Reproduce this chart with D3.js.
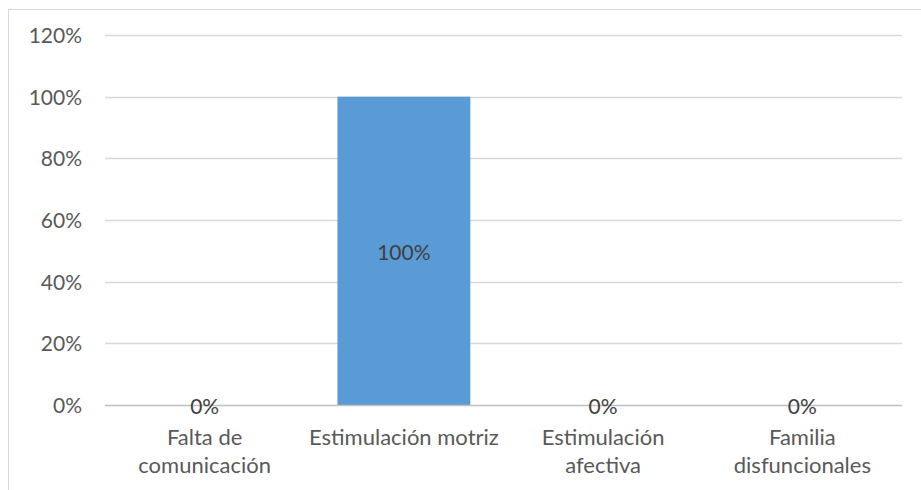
<!DOCTYPE html>
<html><head><meta charset="utf-8">
<script src="https://cdn.jsdelivr.net/npm/d3@7"></script>
<style>body{margin:0;background:#fff;}svg{display:block;}</style>
</head><body>
<svg id="c" width="921" height="490"></svg>
<script>
const categories = [["Falta de","comunicación"],["Estimulación motriz"],["Estimulación","afectiva"],["Familia","disfuncionales"]];
const values = [0, 1, 0, 0];
const yTicks = [0, 0.2, 0.4, 0.6, 0.8, 1.0, 1.2];

(function() {
const svg = d3.select("#c");
const font = "Lato, 'Open Sans', sans-serif";
const fsTick = 21, fsCat = 22;
const pLeft = 105, pRight = 902, pTop = 35, pBottom = 405;

svg.append("rect").attr("x", 8.5).attr("y", 9.5).attr("width", 930).attr("height", 500)
  .attr("fill", "#fff").attr("stroke", "#d9d9d9").attr("stroke-width", 1);

const x = d3.scaleBand().domain(d3.range(categories.length)).range([pLeft, pRight])
  .paddingInner(0.333).paddingOuter(0.1667);
const y = d3.scaleLinear().domain([0, 1.2]).range([pBottom, pTop]);

svg.append("g").selectAll("line").data(yTicks.filter(d => d > 0)).join("line")
  .attr("x1", pLeft).attr("x2", pRight)
  .attr("y1", d => Math.round(y(d)) + 0.5).attr("y2", d => Math.round(y(d)) + 0.5)
  .attr("stroke", "#d9d9d9").attr("stroke-width", 1.3);

const yAxis = d3.axisLeft(y).tickValues(yTicks).tickFormat(d3.format(".0%")).tickSize(0).tickPadding(0);
const ya = svg.append("g").attr("transform", "translate(82,0)").call(yAxis);
ya.select(".domain").remove();
ya.selectAll("text").attr("font-family", font).attr("font-size", fsTick).attr("fill", "#595959").attr("dy", "0.35em");

svg.append("g").selectAll("rect").data(values).join("rect")
  .attr("x", (d, i) => x(i)).attr("width", x.bandwidth())
  .attr("y", d => y(d)).attr("height", d => y(0) - y(d))
  .attr("fill", "#5b9bd5");

svg.append("line").attr("x1", pLeft).attr("x2", pRight)
  .attr("y1", y(0) + 0.5).attr("y2", y(0) + 0.5)
  .attr("stroke", "#bfbfbf").attr("stroke-width", 1.3);

svg.append("g").selectAll("text").data(values).join("text")
  .attr("x", (d, i) => x(i) + x.bandwidth() / 2)
  .attr("y", d => (y(d) + y(0)) / 2 + 2)
  .attr("text-anchor", "middle").attr("dy", "0.35em")
  .attr("font-family", font).attr("font-size", fsTick).attr("fill", "#404040")
  .text(d => d3.format(".0%")(d));

const cg = svg.append("g").selectAll("text").data(categories).join("text")
  .attr("text-anchor", "middle")
  .attr("font-family", font).attr("font-size", fsCat).attr("fill", "#595959");
cg.each(function(lines, i) {
  const t = d3.select(this);
  lines.forEach((ln, j) => {
    t.append("tspan").attr("x", x(i) + x.bandwidth() / 2).attr("y", 445 + j * 28).text(ln);
  });
});
})();
</script>
</body></html>
